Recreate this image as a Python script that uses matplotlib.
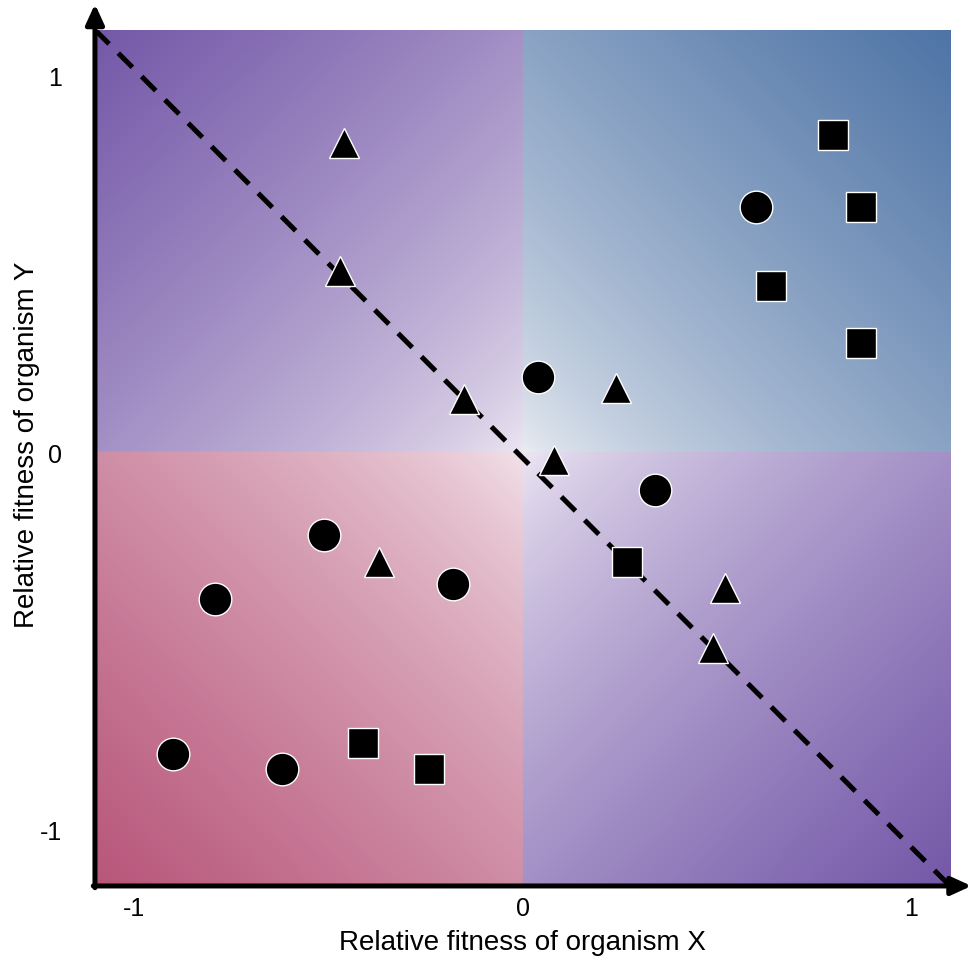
import matplotlib.pyplot as plt
import numpy as np

plt.rcParams['font.family'] = ['Liberation Sans', 'DejaVu Sans']

# data
tri_x = [-0.46, -0.47, -0.15, 0.08, 0.24, -0.37, 0.52, 0.49]
tri_y = [0.82, 0.48, 0.14, -0.02, 0.17, -0.29, -0.36, -0.52]

circ_x = [0.60, 0.04, 0.34, -0.51, -0.79, -0.18, -0.90, -0.62]
circ_y = [0.65, 0.20, -0.10, -0.22, -0.39, -0.35, -0.80, -0.84]

sq_x = [0.80, 0.87, 0.64, 0.87, 0.27, -0.41, -0.24]
sq_y = [0.84, 0.65, 0.44, 0.29, -0.29, -0.77, -0.84]

ticks = [-1, 0, 1]
tick_labels = ['-1', '0', '1']

xlim = (-1.1, 1.1)
ylim = (-1.15, 1.12)

fig = plt.figure(figsize=(9.75, 9.62), dpi=100)
ax = fig.add_axes([0.0974, 0.078, 0.877, 0.89])

# gradient background, one colour pair per quadrant
n = 600
xs = np.linspace(xlim[0], xlim[1], n)
ys = np.linspace(ylim[1], ylim[0], n)
X, Y = np.meshgrid(xs, ys)
tx = np.where(X < 0, X / xlim[0], X / xlim[1])
ty = np.where(Y < 0, Y / ylim[0], Y / ylim[1])
t = ((tx + ty) / 2) ** 0.7

def rgb(h):
    return np.array([int(h[i:i + 2], 16) for i in (1, 3, 5)]) / 255.0

quads = {
    'tl': (rgb('#7458a8'), rgb('#efeaf4')),
    'tr': (rgb('#4e74a6'), rgb('#eceff4')),
    'bl': (rgb('#b8567a'), rgb('#f4e6ec')),
    'br': (rgb('#7458a8'), rgb('#efeaf5')),
}
img = np.zeros((n, n, 3))
masks = {
    'tl': (X < 0) & (Y >= 0),
    'tr': (X >= 0) & (Y >= 0),
    'bl': (X < 0) & (Y < 0),
    'br': (X >= 0) & (Y < 0),
}
for k, m in masks.items():
    corner, center = quads[k]
    for c in range(3):
        img[..., c] = np.where(m, center[c] + (corner[c] - center[c]) * t, img[..., c])

ax.imshow(img, extent=[xlim[0], xlim[1], ylim[0], ylim[1]], aspect='auto',
          interpolation='bilinear', zorder=0)

# dashed diagonal, corner to corner
ax.plot([xlim[0], xlim[1]], [ylim[1], ylim[0]], ls=(0, (4, 2.6)), color='black',
        lw=3.6, zorder=2)

mk = dict(color='black', ls='none', mec='white', mew=1.0, zorder=3)
ax.plot(tri_x, tri_y, marker='^', ms=22, **mk)
ax.plot(circ_x, circ_y, marker='o', ms=23.5, **mk)
ax.plot(sq_x, sq_y, marker='s', ms=21.5, **mk)

ax.set_xlim(xlim)
ax.set_ylim(ylim)
for s in ax.spines.values():
    s.set_visible(False)

ax.set_xticks(ticks)
ax.set_xticklabels(tick_labels)
ax.set_yticks(ticks)
ax.set_yticklabels(tick_labels)
ax.tick_params(axis='x', length=0, pad=7, labelsize=18)
ax.tick_params(axis='y', length=0, pad=24, labelsize=18)

ax.set_xlabel('Relative fitness of organism X', fontsize=20)
ax.set_ylabel('Relative fitness of organism Y', fontsize=20)
ax.xaxis.set_label_coords(0.5, -0.05)
ax.yaxis.set_label_coords(-0.064, 0.516)

# axis arrows
arr = dict(arrowstyle='-|>,head_length=1.2,head_width=0.55', color='black',
           lw=3.6, shrinkA=0, shrinkB=0)
ax.annotate('', xy=(0, 1.03), xytext=(0, -0.002), xycoords='axes fraction',
            arrowprops=arr, annotation_clip=False)
ax.annotate('', xy=(1.025, 0), xytext=(-0.002, 0), xycoords='axes fraction',
            arrowprops=arr, annotation_clip=False)

plt.savefig('out.png', dpi=100)
